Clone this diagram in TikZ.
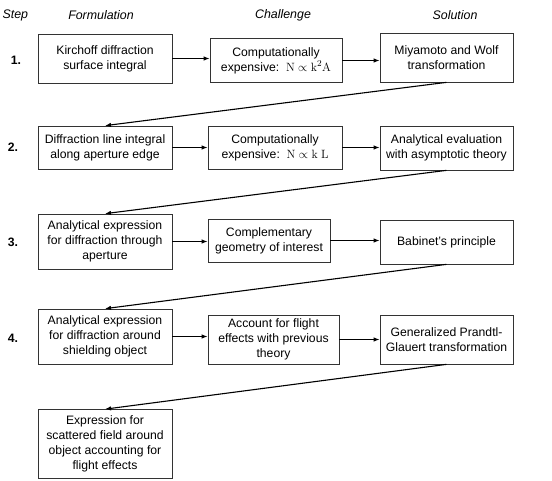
\documentclass[tikz,border=0pt]{standalone}
\usepackage{amsmath}
\usepackage{amssymb}
\usepackage[no-math]{fontspec}
\setmainfont{Liberation Sans}
\usetikzlibrary{arrows.meta}

\begin{document}
\begin{tikzpicture}[x=1pt,y=-1pt,
    box/.style={draw=black!80,line width=0.7pt,align=center,inner sep=2pt,
      font=\fontsize{12.2}{15}\selectfont},
    head/.style={font=\itshape\fontsize{12.4}{15}\selectfont},
    num/.style={font=\bfseries\fontsize{12.2}{15}\selectfont},
    flow/.style={-{Latex[length=6pt,width=4.5pt]},line width=1.1pt}]
    \useasboundingbox (0,0) rectangle (552,480);
    \node[head,anchor=west] (h0) at (-1,15) {Step};
    \node[head] (h1) at (101,15) {Formulation};
    \node[head] (h2) at (283,15) {Challenge};
    \node[head] (h3) at (455,15) {Solution};
    \node[num] (n1) at (16,60) {1.};
    \node[num] (n2) at (13,147) {2.};
    \node[num] (n3) at (13,242) {3.};
    \node[num] (n4) at (13,338) {4.};
    \node[box,minimum width=134,minimum height=49] (f1) at (105,58.5) {Kirchoff diffraction\\surface integral};
    \node[box,minimum width=132,minimum height=44] (c1) at (276,60.5) {Computationally\\expensive:\ \ $\mathrm{N}\propto\mathrm{k}^{2}\mathrm{A}$};
    \node[box,minimum width=133,minimum height=49] (s1) at (446.5,57.5) {Miyamoto and Wolf\\transformation};
    \node[box,minimum width=134,minimum height=43] (f2) at (105,147.5) {Diffraction line integral\\along aperture edge};
    \node[box,minimum width=134,minimum height=43] (c2) at (275,147.5) {Computationally\\expensive:\ \ $\mathrm{N}\propto\mathrm{k}\;\mathrm{L}$};
    \node[box,minimum width=133,minimum height=44] (s2) at (446.5,148) {Analytical evaluation\\with asymptotic theory};
    \node[box,minimum width=134,minimum height=55] (f3) at (105,241.5) {Analytical expression\\for diffraction through\\aperture};
    \node[box,minimum width=122,minimum height=43] (c3) at (269,240.5) {Complementary\\geometry of interest};
    \node[box,minimum width=133,minimum height=44] (s3) at (446.5,242) {Babinet's principle};
    \node[box,minimum width=134,minimum height=55] (f4) at (105,336.5) {Analytical expression\\for diffraction around\\shielding object};
    \node[box,minimum width=131,minimum height=49] (c4) at (273.5,339.5) {Account for flight\\effects with previous\\theory};
    \node[box,minimum width=133,minimum height=49] (s4) at (446.5,339.5) {Generalized Prandtl-\\Glauert transformation};
    \node[box,minimum width=134,minimum height=69] (f5) at (105,444) {Expression for\\scattered field around\\object accounting for\\flight effects};
    \draw[flow] (f1.east) -- (f1.east -| c1.west);
    \draw[flow] (c1.east) -- (c1.east -| s1.west);
    \draw[flow] (f2.east) -- (f2.east -| c2.west);
    \draw[flow] (c2.east) -- (c2.east -| s2.west);
    \draw[flow] (f3.east) -- (f3.east -| c3.west);
    \draw[flow] (c3.east) -- (c3.east -| s3.west);
    \draw[flow] (f4.east) -- (f4.east -| c4.west);
    \draw[flow] (c4.east) -- (c4.east -| s4.west);
    \draw[flow] (s1.south) -- (f2.north);
    \draw[flow] (s2.south) -- (f3.north);
    \draw[flow] (s3.south) -- (f4.north);
    \draw[flow] (s4.south) -- (f5.north);
\end{tikzpicture}
\end{document}
